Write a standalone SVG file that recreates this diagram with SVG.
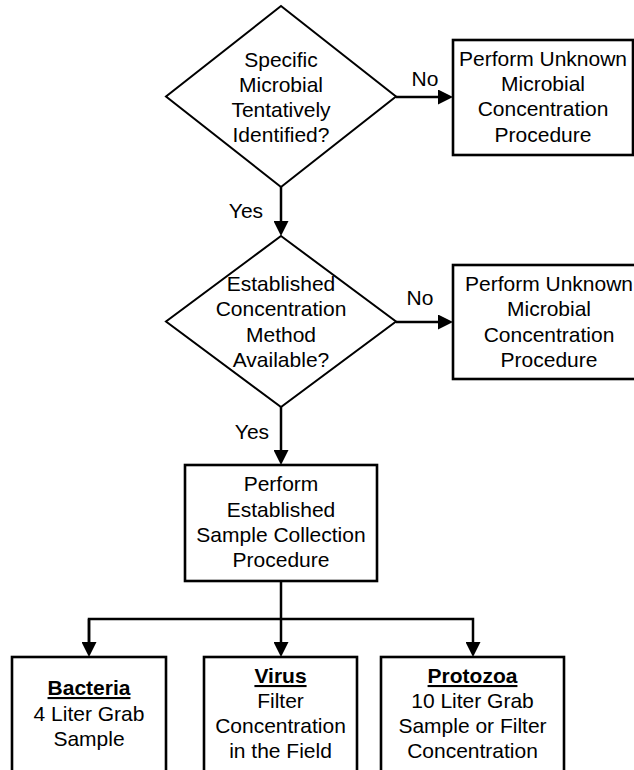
<svg xmlns="http://www.w3.org/2000/svg" width="634" height="770" viewBox="0 0 634 770">
<defs>
<style>
text{font-family:"Liberation Sans",Arial,sans-serif;font-size:21px;fill:#000;text-anchor:middle}
.box{fill:#fff;stroke:#000;stroke-width:2.6}
.dia{fill:#fff;stroke:#000;stroke-width:2}
.con{fill:none;stroke:#000;stroke-width:2.5}
.hd{font-weight:bold;text-decoration:underline}
</style>
<marker id="ah" markerUnits="userSpaceOnUse" viewBox="0 0 15 15" markerWidth="15" markerHeight="15" refX="0" refY="7.5" orient="auto">
<path d="M0,0 L15,7.5 L0,15 Z" fill="#000"/>
</marker>
</defs>
<rect width="634" height="770" fill="#fff"/>
<g id="connectors">
<line class="con" x1="396" y1="97" x2="438" y2="97" marker-end="url(#ah)"/>
<line class="con" x1="281" y1="187" x2="281" y2="221" marker-end="url(#ah)"/>
<line class="con" x1="396" y1="322" x2="438" y2="322" marker-end="url(#ah)"/>
<line class="con" x1="281" y1="407" x2="281" y2="450" marker-end="url(#ah)"/>
<line class="con" x1="281" y1="581" x2="281" y2="642" marker-end="url(#ah)"/>
<polyline class="con" points="89,642 89,619 473,619 473,642" marker-end="url(#ah)"/>
<line class="con" x1="89" y1="619" x2="89" y2="642" marker-end="url(#ah)"/>
<text x="425" y="86">No</text>
<text x="420" y="305">No</text>
<text x="246" y="218">Yes</text>
<text x="252" y="439">Yes</text>
</g>
<g id="d1">
<polygon class="dia" points="281,6 396,96.5 281,187 166,96.5"/>
<text x="281" y="67">Specific</text>
<text x="281" y="92">Microbial</text>
<text x="281" y="117">Tentatively</text>
<text x="281" y="142">Identified?</text>
</g>
<g id="b1">
<rect class="box" x="453" y="40" width="180" height="115"/>
<text x="543" y="66">Perform Unknown</text>
<text x="543" y="91">Microbial</text>
<text x="543" y="116">Concentration</text>
<text x="543" y="142">Procedure</text>
</g>
<g id="d2">
<polygon class="dia" points="281,236 396,321.5 281,407 166,321.5"/>
<text x="281" y="291">Established</text>
<text x="281" y="316">Concentration</text>
<text x="281" y="342">Method</text>
<text x="281" y="367">Available?</text>
</g>
<g id="b2">
<rect class="box" x="453" y="265" width="194" height="114"/>
<text x="549" y="291">Perform Unknown</text>
<text x="549" y="316">Microbial</text>
<text x="549" y="342">Concentration</text>
<text x="549" y="367">Procedure</text>
</g>
<g id="b3">
<rect class="box" x="185" y="465" width="192" height="116"/>
<text x="281" y="491">Perform</text>
<text x="281" y="517">Established</text>
<text x="281" y="542">Sample Collection</text>
<text x="281" y="567">Procedure</text>
</g>
<g id="bacteria">
<rect class="box" x="12" y="657" width="154" height="130"/>
<text x="89" y="695" class="hd">Bacteria</text>
<text x="89" y="721">4 Liter Grab</text>
<text x="89" y="746">Sample</text>
</g>
<g id="virus">
<rect class="box" x="204" y="657" width="153" height="130"/>
<text x="280.5" y="683" class="hd">Virus</text>
<text x="280.5" y="708">Filter</text>
<text x="280.5" y="733">Concentration</text>
<text x="280.5" y="758">in the Field</text>
</g>
<g id="protozoa">
<rect class="box" x="381" y="657" width="183" height="130"/>
<text x="472.5" y="683" class="hd">Protozoa</text>
<text x="472.5" y="708">10 Liter Grab</text>
<text x="472.5" y="733">Sample or Filter</text>
<text x="472.5" y="758">Concentration</text>
</g>
</svg>
